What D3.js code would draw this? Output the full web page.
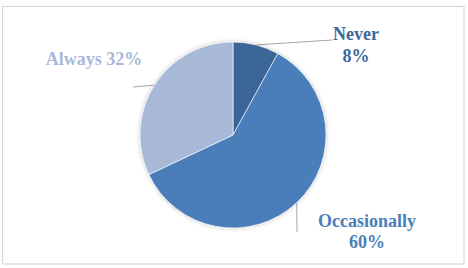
<!DOCTYPE html>
<html><head><meta charset="utf-8">
<script src="https://cdn.jsdelivr.net/npm/d3@7"></script>
<style>body{margin:0;background:#fff}svg{display:block}</style>
</head><body>
<script>
const categories = ["Never", "Occasionally", "Always"];
const values = [8, 60, 32];
const colors = ["#3E6698", "#4A7EBB", "#A8B9D8"];
const labelColors = ["#3E6698", "#4A7EBB", "#A8B9D8"];

const W = 468, H = 268;
const svg = d3.select("body").append("svg").attr("width", W).attr("height", H);
svg.append("rect").attr("x", 2.5).attr("y", 6.5).attr("width", 461.5).attr("height", 257.5)
  .attr("fill", "#fff").attr("stroke", "#D9D9D9").attr("stroke-width", 1.2);

const cx = 233, cy = 135, r = 93;
const data = categories.map((c, i) => ({cat: c, value: values[i], i}));
const pie = d3.pie().sort(null).value(d => d.value);
const arcs = pie(data);
const arc = d3.arc().innerRadius(0).outerRadius(r);
const g = svg.append("g").attr("transform", `translate(${cx},${cy})`);

const defs = svg.append("defs");
const f = defs.append("filter").attr("id", "sh").attr("x", "-20%").attr("y", "-20%").attr("width", "140%").attr("height", "140%");
f.append("feGaussianBlur").attr("in", "SourceAlpha").attr("stdDeviation", 2);
f.append("feOffset").attr("dx", 0).attr("dy", 0).attr("result", "b");
f.append("feComponentTransfer").append("feFuncA").attr("type", "linear").attr("slope", 0.25);
const m = f.append("feMerge");
m.append("feMergeNode");
m.append("feMergeNode").attr("in", "SourceGraphic");

g.append("g").attr("filter", "url(#sh)").selectAll("path").data(arcs).join("path")
  .attr("d", arc).attr("fill", d => colors[d.data.i]).attr("stroke", "#fff").attr("stroke-width", 0.6);

// leader lines: from arc midpoint to label
const ends = [[332 - cx, 40 - cy], [297 - cx, 232 - cy], [133 - cx, 87 - cy]];
arcs.forEach((a, k) => {
  const mid = (a.startAngle + a.endAngle) / 2;
  const px = r * Math.sin(mid), py = -r * Math.cos(mid);
  g.append("line").attr("x1", px).attr("y1", py).attr("x2", ends[k][0]).attr("y2", ends[k][1])
    .attr("stroke", "#A6A6A6").attr("stroke-width", 1);
});

const labels = [
  {lines: ["Never", "8%"], x: 356, y: [40, 62]},
  {lines: ["Occasionally", "60%"], x: 367, y: [227, 248]},
  {lines: ["Always 32%"], x: 94, y: [65]}
];
labels.forEach((l, k) => {
  l.lines.forEach((t, j) => {
    svg.append("text").attr("x", l.x).attr("y", l.y[j]).attr("text-anchor", "middle")
      .attr("font-family", "'Liberation Serif','Times New Roman',serif").attr("font-weight", "bold")
      .attr("font-size", 18).attr("fill", labelColors[k]).text(t);
  });
});
</script>
</body></html>
